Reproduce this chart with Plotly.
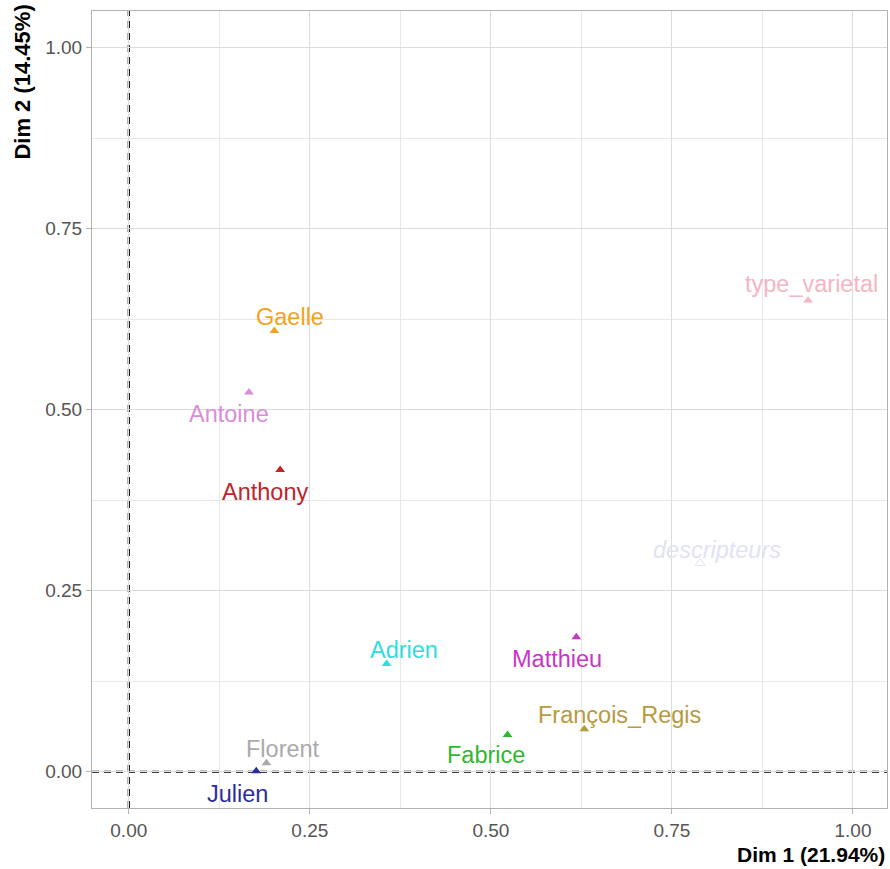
import plotly.graph_objects as go

# ---- data ----
groups = ["Gaelle", "Antoine", "Anthony", "type_varietal", "descripteurs",
          "Adrien", "Matthieu", "François_Regis", "Fabrice", "Florent", "Julien"]
dim1 = [0.201, 0.166, 0.209, 0.938, 0.789, 0.356, 0.618, 0.629, 0.523, 0.190, 0.176]
dim2 = [0.609, 0.524, 0.417, 0.651, 0.288, 0.149, 0.186, 0.059, 0.051, 0.012, 0.001]
x_ticks = [0.0, 0.25, 0.5, 0.75, 1.0]
y_ticks = [0.0, 0.25, 0.5, 0.75, 1.0]
x_title = "Dim 1 (21.94%)"
y_title = "Dim 2 (14.45%)"

# ---- styles ----
colors = {
    "Gaelle": "#F2A21E", "Antoine": "#DA8CDA", "Anthony": "#C0242A",
    "type_varietal": "#F5B5C3", "descripteurs": "#E2E2F5", "Adrien": "#30DCDC",
    "Matthieu": "#C836C8", "François_Regis": "#B89A3E", "Fabrice": "#30B830",
    "Florent": "#AAAAAA", "Julien": "#2C2C9C",
}
# label shift in pixels (right, up) relative to its point
label_shift = {
    "Gaelle": (16, 14), "Antoine": (-20, -22), "Anthony": (-15, -22),
    "type_varietal": (3, 16), "descripteurs": (17, 13), "Adrien": (17, 14),
    "Matthieu": (-19, -22), "François_Regis": (35, 14), "Fabrice": (-22, -20),
    "Florent": (17, 14), "Julien": (-19, -23),
}
italic = {"descripteurs"}
FONT = "Liberation Sans, Arial, sans-serif"

fig = go.Figure()
for g, x, y in zip(groups, dim1, dim2):
    fig.add_trace(go.Scatter(
        x=[x], y=[y], mode="markers", showlegend=False,
        marker=dict(symbol="triangle-up-open" if g in italic else "triangle-up",
                    size=8.5, color=colors[g],
                    line=dict(width=1 if g in italic else 0, color=colors[g])),
        hoverinfo="skip"))

annotations = []
for g, x, y in zip(groups, dim1, dim2):
    dx, dy = label_shift[g]
    txt = f"<i>{g}</i>" if g in italic else g
    annotations.append(dict(x=x, y=y, xref="x", yref="y", text=txt, showarrow=False,
                            xshift=dx, yshift=dy, xanchor="center", yanchor="middle",
                            font=dict(family=FONT, size=23.5, color=colors[g])))

annotations.append(dict(x=1, y=-0.058, xref="paper", yref="paper", text=f"<b>{x_title}</b>",
                        showarrow=False, xanchor="right", yanchor="middle",
                        font=dict(family=FONT, size=21, color="#000000")))
annotations.append(dict(x=-0.088, y=1.010, xref="paper", yref="paper", text=f"<b>{y_title}</b>",
                        showarrow=False, textangle=-90, xanchor="center", yanchor="top",
                        font=dict(family=FONT, size=22, color="#000000")))

shapes = [
    dict(type="line", xref="x", yref="paper", x0=0, x1=0, y0=0, y1=1,
         line=dict(color="#000000", width=2.2, dash="7px,5px"), layer="between"),
    dict(type="line", xref="paper", yref="y", x0=0, x1=1, y0=0, y1=0,
         line=dict(color="#000000", width=2.2, dash="7px,5px"), layer="between"),
]

axis_common = dict(
    showgrid=True, gridcolor="#DCDCDC", gridwidth=1, zeroline=False,
    showline=True, mirror=True, linecolor="#B3B3B3", linewidth=1,
    ticks="outside", ticklen=5, tickcolor="#B3B3B3", tickwidth=1,
    tickformat=".2f", tickfont=dict(family=FONT, size=19, color="#555555"),
    minor=dict(dtick=0.125, tick0=0, showgrid=True, gridcolor="#E8E8E8", gridwidth=0.8, ticks=""),
)

fig.update_layout(
    width=890, height=869,
    margin=dict(l=92, r=3, t=11, b=61),
    paper_bgcolor="white", plot_bgcolor="white",
    xaxis=dict(range=[-0.0508, 1.047], tickvals=x_ticks, **axis_common),
    yaxis=dict(range=[-0.0501, 1.0507], tickvals=y_ticks, **axis_common),
    annotations=annotations, shapes=shapes,
    font=dict(family=FONT),
)

fig.write_html("out.html", config={"displayModeBar": False},
               post_script="document.body.style.margin='0';")
